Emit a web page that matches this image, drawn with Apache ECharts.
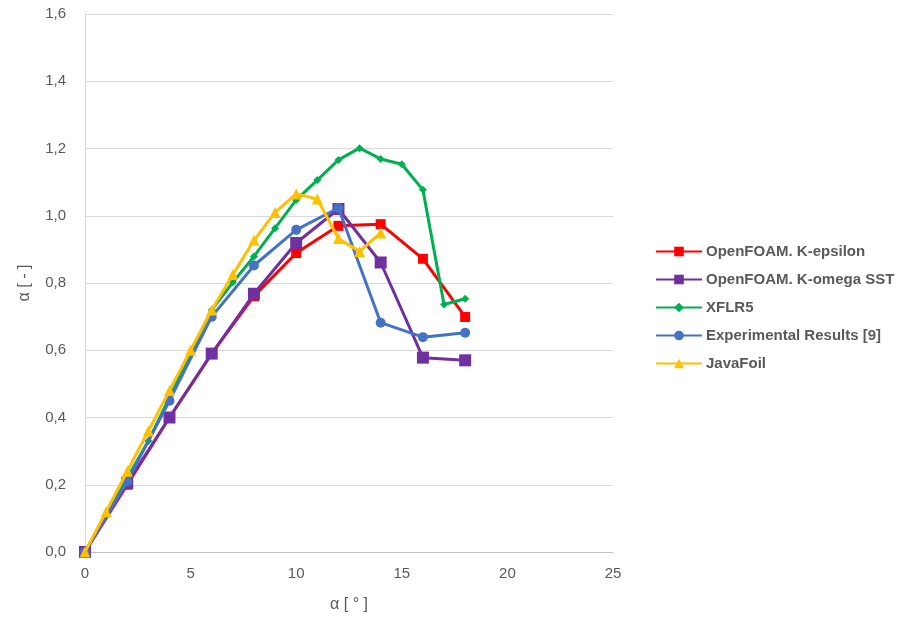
<!DOCTYPE html>
<html>
<head>
<meta charset="utf-8">
<script src="https://cdn.jsdelivr.net/npm/echarts@6/dist/echarts.min.js"></script>
<style>html,body{margin:0;padding:0;background:#fff}#c{width:917px;height:618px}</style>
</head>
<body>
<div id="c"></div>
<script>
const seriesNames = ['OpenFOAM. K-epsilon', 'OpenFOAM. K-omega SST', 'XFLR5', 'Experimental Results [9]', 'JavaFoil'];
const kEpsilon = [[0,0],[2,0.20],[4,0.40],[6,0.59],[8,0.761],[10,0.889],[12,0.970],[14,0.975],[16,0.872],[18,0.699]];
const kOmega = [[0,0],[2,0.205],[4,0.40],[6,0.59],[8,0.768],[10,0.919],[12,1.02],[14,0.861],[16,0.578],[18,0.570]];
const xflr5 = [[0,0],[1,0.11],[2,0.22],[3,0.33],[4,0.46],[5,0.59],[6,0.72],[7,0.802],[8,0.879],[9,0.963],[10,1.047],[11,1.106],[12,1.166],[13,1.201],[14,1.169],[15,1.153],[16,1.077],[17,0.736],[18,0.753]];
const experimental = [[0,0],[2,0.21],[4,0.45],[6,0.70],[8,0.852],[10,0.958],[12,1.023],[14,0.682],[16,0.639],[18,0.652]];
const javaFoil = [[0,0],[1,0.12],[2,0.24],[3,0.36],[4,0.48],[5,0.60],[6,0.72],[7,0.825],[8,0.927],[9,1.01],[10,1.065],[11,1.05],[12,0.932],[13,0.894],[14,0.949]];
const xTicks = {min: 0, max: 25, interval: 5};
const yTicks = {min: 0, max: 1.6, interval: 0.2};

const colors = ['#FF0000', '#7030A0', '#00B050', '#4472C4', '#FFC000'];
const symbols = ['rect', 'rect', 'diamond', 'circle', 'triangle'];
const sizes = [10, 12, 8, 10, 11];
const datasets = [kEpsilon, kOmega, xflr5, experimental, javaFoil];
const font = 'Liberation Sans';

const chart = echarts.init(document.getElementById('c'));
chart.setOption({
  animation: false,
  textStyle: {fontFamily: font},
  grid: {left: 85, right: 304, top: 14, bottom: 64},
  legend: {
    orient: 'vertical', left: 650, top: 239, itemGap: 13, itemWidth: 46, itemHeight: 12,
    textStyle: {color: '#595959', fontSize: 15, fontWeight: 'bold', fontFamily: font, padding: [0, 0, 0, -1]},
    data: seriesNames
  },
  xAxis: {
    type: 'value', min: xTicks.min, max: xTicks.max, interval: xTicks.interval,
    name: 'α [ ° ]', nameLocation: 'middle', nameGap: 45,
    nameTextStyle: {color: '#595959', fontSize: 16, fontFamily: font},
    axisLine: {show: true, onZero: false, lineStyle: {color: '#bfbfbf'}},
    axisTick: {show: false},
    axisLabel: {color: '#595959', fontSize: 15, margin: 14},
    splitLine: {show: false}
  },
  yAxis: {
    type: 'value', min: yTicks.min, max: yTicks.max, interval: yTicks.interval,
    name: 'α [ - ]', nameLocation: 'middle', nameGap: 52, nameRotate: 90,
    nameTextStyle: {color: '#595959', fontSize: 16, fontFamily: font},
    axisLine: {show: true, lineStyle: {color: '#d9d9d9'}},
    axisTick: {show: false},
    axisLabel: {color: '#595959', fontSize: 15, margin: 19, formatter: v => v.toFixed(1).replace('.', ',')},
    splitLine: {show: true, lineStyle: {color: '#d9d9d9', width: 1}}
  },
  series: datasets.map((d, i) => ({
    name: seriesNames[i], type: 'line', data: d,
    symbol: symbols[i], symbolSize: sizes[i], showSymbol: true,
    itemStyle: {color: colors[i]},
    lineStyle: {color: colors[i], width: 3},
    z: 2 + i
  }))
});
</script>
</body>
</html>
